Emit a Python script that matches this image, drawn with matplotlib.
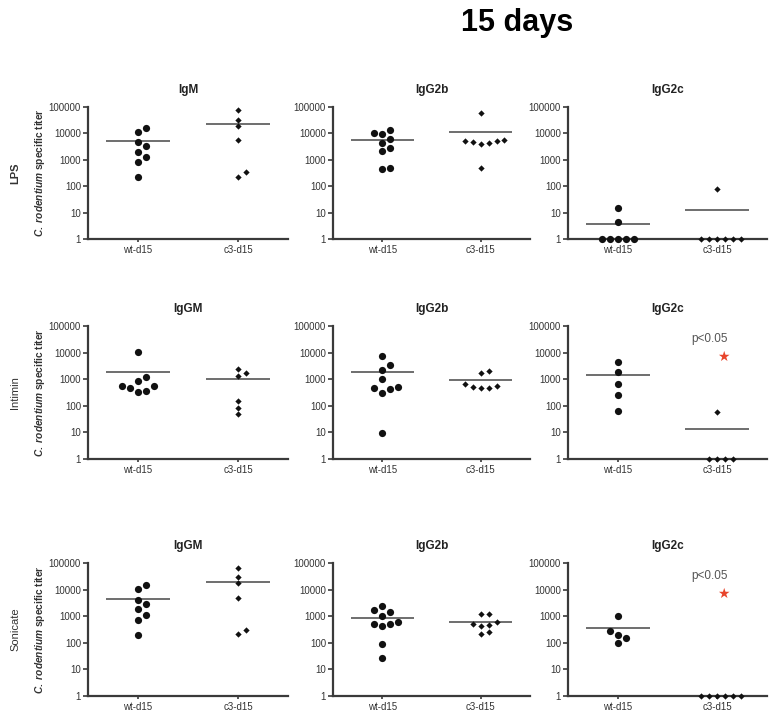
import numpy as np
import matplotlib.pyplot as plt

plt.rcParams["font.family"] = ["Liberation Sans", "DejaVu Sans"]
plt.rcParams["mathtext.fontset"] = "custom"
plt.rcParams["mathtext.it"] = "Liberation Sans:italic:bold"
plt.rcParams["mathtext.rm"] = "Liberation Sans:bold"

GROUPS = ["wt-d15", "c3-d15"]
ROW_LABELS = ["LPS", "Intimin", "Sonicate"]
TITLES = [["IgM", "IgG2b", "IgG2c"],
          ["IgGM", "IgG2b", "IgG2c"],
          ["IgGM", "IgG2b", "IgG2c"]]
YTICKS = [1, 10, 100, 1000, 10000, 100000]

# titers (wt group, c3 group), plus the drawn group means
lps_igm_wt = [11000, 16000, 4800, 3250, 2050, 1300, 810, 225]
lps_igm_c3 = [74000, 33000, 19000, 5500, 225, 340]
lps_igm_mean = [5200, 22000]

lps_igg2b_wt = [10500, 13300, 9600, 5900, 4150, 2750, 2170, 460, 470]
lps_igg2b_c3 = [61000, 5400, 4950, 4500, 4000, 4800, 5200, 475]
lps_igg2b_mean = [5600, 11800]

lps_igg2c_wt = [15, 4.3, 1, 1, 1, 1, 1]
lps_igg2c_c3 = [80, 1, 1, 1, 1, 1, 1]
lps_igg2c_mean = [3.8, 12.6]

int_igm_wt = [10500, 1170, 830, 570, 480, 340, 370, 570]
int_igm_c3 = [2450, 1350, 1700, 156, 83, 48]
int_igm_mean = [1800, 980]

int_igg2b_wt = [7400, 3300, 2200, 1040, 500, 410, 316, 460, 9.3]
int_igg2b_c3 = [2000, 1700, 670, 515, 450, 450, 550]
int_igg2b_mean = [1800, 920]

int_igg2c_wt = [4400, 1850, 650, 245, 63]
int_igg2c_c3 = [61, 1, 1, 1, 1]
int_igg2c_mean = [1480, 13]

son_igm_wt = [10300, 14500, 4200, 2900, 1830, 1150, 750, 205]
son_igm_c3 = [67000, 30000, 17000, 5000, 210, 316]
son_igm_mean = [4600, 20000]

son_igg2b_wt = [2450, 1500, 1700, 980, 530, 410, 500, 580, 94, 26]
son_igg2b_c3 = [1200, 1200, 615, 425, 475, 500, 210, 260]
son_igg2b_mean = [870, 615]

son_igg2c_wt = [1030, 275, 195, 155, 98]
son_igg2c_c3 = [1, 1, 1, 1, 1, 1]
son_igg2c_mean = [355, 1]

PANELS = [
    [(lps_igm_wt, lps_igm_c3, lps_igm_mean),
     (lps_igg2b_wt, lps_igg2b_c3, lps_igg2b_mean),
     (lps_igg2c_wt, lps_igg2c_c3, lps_igg2c_mean)],
    [(int_igm_wt, int_igm_c3, int_igm_mean),
     (int_igg2b_wt, int_igg2b_c3, int_igg2b_mean),
     (int_igg2c_wt, int_igg2c_c3, int_igg2c_mean)],
    [(son_igm_wt, son_igm_c3, son_igm_mean),
     (son_igg2b_wt, son_igg2b_c3, son_igg2b_mean),
     (son_igg2c_wt, son_igg2c_c3, son_igg2c_mean)],
]
SIGNIFICANT = {(1, 2), (2, 2)}

# layout in pixels of the 780x721 figure
W, H = 780, 721
COL_X = [(88, 200), (333, 197), (568, 199)]
ROW_Y = [(107, 132), (326, 133), (563, 133)]

AXIS_COLOR = "#3a3a3a"
SLOT = 0.08


def swarm(values, diam):
    """GraphPad-style column scatter: points that overlap in log-space
    are pushed into side slots 0, +1, -1, +2, -2 ..."""
    logv = np.log10(values)
    order = np.argsort(logv, kind="stable")
    slots = np.zeros(len(values))
    placed = []
    prefs = [0, 1, -1, 2, -2, 3, -3, 4, -4]
    for i in order:
        for s in prefs:
            if all(ps != s or abs(pl - logv[i]) >= diam for ps, pl in placed):
                slots[i] = s
                placed.append((s, logv[i]))
                break
    return slots * SLOT


fig = plt.figure(figsize=(W / 100, H / 100), dpi=100)
fig.text(517 / W, 1 - 23 / H, "15 days", ha="center", va="center",
         fontsize=22, fontweight="bold")

for r in range(3):
    for c in range(3):
        x0, w = COL_X[c]
        y0, h = ROW_Y[r]
        ax = fig.add_axes([x0 / W, 1 - (y0 + h) / H, w / W, h / H])
        wt, c3, means = PANELS[r][c]

        for pos, vals, marker, ms, diam in [(0, wt, "o", 5.2, 0.28),
                                             (1, c3, "D", 3.2, 0.19)]:
            off = swarm(vals, diam)
            ax.plot(pos + off, vals, ls="none", marker=marker, ms=ms,
                    color="#111111", mec="none", clip_on=False, zorder=3)
            ax.hlines(means[pos], pos - 0.32, pos + 0.32, color="#555555",
                      lw=1.2, zorder=2)

        ax.set_yscale("log")
        ax.set_ylim(1, 100000)
        ax.set_xlim(-0.5, 1.5)
        ax.set_yticks(YTICKS)
        ax.set_yticklabels([str(t) for t in YTICKS])
        ax.yaxis.set_minor_locator(plt.NullLocator())
        ax.set_xticks([0, 1])
        ax.set_xticklabels(GROUPS)
        for side in ["top", "right"]:
            ax.spines[side].set_visible(False)
        for side in ["left", "bottom"]:
            ax.spines[side].set_color(AXIS_COLOR)
            ax.spines[side].set_linewidth(1.6)
        ax.tick_params(axis="y", length=3.5, width=1.2, color=AXIS_COLOR,
                       labelsize=7, labelcolor="#333333", pad=1.5)
        ax.tick_params(axis="x", length=2.5, width=1.2, color=AXIS_COLOR,
                       labelsize=7, labelcolor="#333333", pad=2)
        ax.set_title(TITLES[r][c], fontsize=8.5, fontweight="bold",
                     color="#222222", pad=10)

        if c == 0:
            ax.set_ylabel(r"$\it{C.\ rodentium}$ specific titer",
                          fontsize=7.3, fontweight="bold", color="#333333")
            ax.yaxis.set_label_coords(-0.205, 0.5)
            fig.text(15 / W, 1 - (y0 + h / 2) / H, ROW_LABELS[r],
                     rotation=90, ha="center", va="center", fontsize=8,
                     fontweight="bold" if r == 0 else "normal",
                     color="#333333")

        if (r, c) in SIGNIFICANT:
            ax.text(0.71, 0.905, "p<0.05", transform=ax.transAxes,
                    ha="center", va="center", fontsize=8.5, color="#555555")
            ax.text(0.78, 0.77, "\u2605", transform=ax.transAxes,
                    ha="center", va="center", fontsize=10, color="#e8452c",
                    family="DejaVu Sans")

fig.savefig("out.png", dpi=100)
